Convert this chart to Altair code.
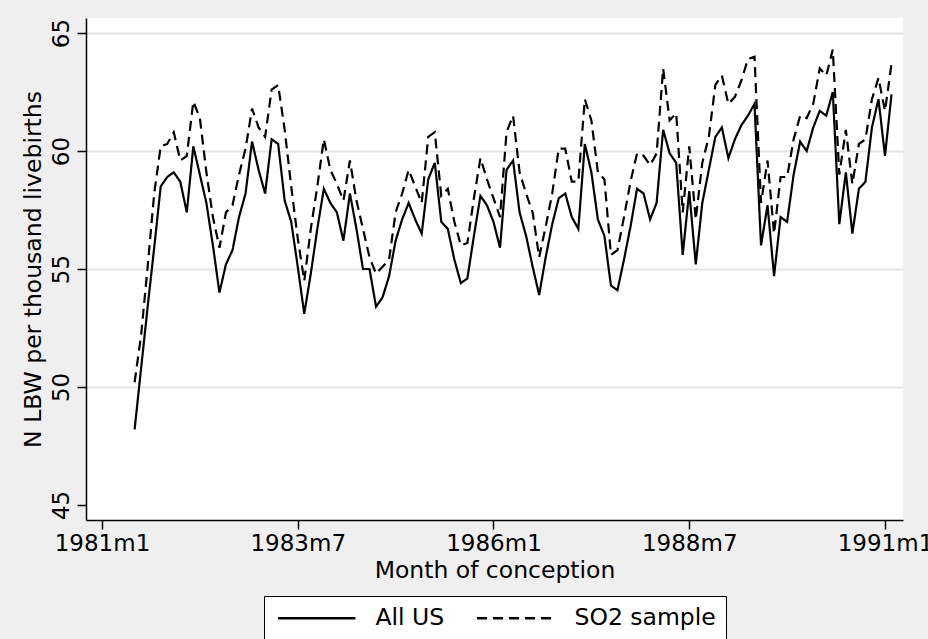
import altair as alt
import pandas as pd

# Months counted from 1981m1 (0 = 1981m1); series run 1981m6 .. 1991m2
first_month = 5

all_us = [
    48.2, 50.8, 53.4, 55.9, 58.5, 58.9, 59.1, 58.7, 57.4, 60.2,
    59.0, 57.8, 56.0, 54.0, 55.2, 55.8, 57.2, 58.2, 60.4, 59.2,
    58.2, 60.5, 60.3, 57.9, 57.0, 55.1, 53.1, 54.8, 56.7, 58.4,
    57.8, 57.4, 56.2, 58.2, 56.7, 55.0, 55.0, 53.4, 53.8, 54.7,
    56.2, 57.1, 57.8, 57.1, 56.5, 58.8, 59.5, 57.0, 56.7, 55.4,
    54.4, 54.6, 56.4, 58.1, 57.7, 57.0, 55.9, 59.2, 59.6, 57.4,
    56.4, 55.1, 53.9, 55.5, 56.9, 58.0, 58.2, 57.2, 56.7, 60.3,
    59.1, 57.1, 56.4, 54.3, 54.1, 55.4, 56.8, 58.4, 58.2, 57.1,
    57.8, 60.9, 59.9, 59.5, 55.6, 58.3, 55.2, 57.8, 59.2, 60.6,
    61.0, 59.7, 60.5, 61.1, 61.5, 62.0, 56.0, 57.7, 54.7, 57.2,
    57.0, 59.0, 60.4, 60.0, 61.0, 61.7, 61.5, 62.5, 56.9, 59.1,
    56.5, 58.4, 58.7, 61.0, 62.2, 59.8, 62.4,
]

so2_sample = [
    50.2, 52.2, 55.1, 58.2, 60.2, 60.3, 60.8, 59.6, 59.8, 62.1,
    61.4, 59.1, 57.2, 55.9, 57.4, 57.7, 59.0, 60.1, 61.8, 61.0,
    60.6, 62.6, 62.8, 60.9, 58.5, 56.3, 54.5, 56.7, 58.5, 60.5,
    59.2, 58.6, 57.9, 59.6, 57.9, 56.7, 55.5, 54.8, 55.1, 55.4,
    57.4, 58.2, 59.2, 58.5, 57.8, 60.6, 60.8, 58.1, 58.4, 57.0,
    56.0, 56.1, 58.0, 59.7, 58.8, 58.0, 57.2, 60.8, 61.5, 59.1,
    58.2, 57.4, 55.5, 56.8, 58.2, 60.1, 60.1, 58.7, 58.7, 62.2,
    61.3, 59.1, 58.8, 55.6, 55.8, 57.2, 58.7, 59.9, 59.8, 59.4,
    59.9, 63.5, 61.3, 61.6, 57.4, 60.2, 57.1, 59.5, 60.6, 62.8,
    63.2, 62.0, 62.3, 63.0, 63.9, 64.0, 57.8, 59.6, 56.5, 58.9,
    58.9, 60.5, 61.5, 61.4, 62.0, 63.5, 63.2, 64.3, 59.0, 60.9,
    58.6, 60.3, 60.5, 62.2, 63.1, 61.7, 63.7,
]

series_names = ["All US", "SO2 sample"]
x_ticks = [0, 30, 60, 90, 120]
y_ticks = [45, 50, 55, 60, 65]

months = list(range(first_month, first_month + len(all_us)))
df = pd.DataFrame({
    "month": months * 2,
    "value": all_us + so2_sample,
    "series": [series_names[0]] * len(all_us) + [series_names[1]] * len(so2_sample),
})

FONT = "DejaVu Sans"
TICK_SIZE = 23
TITLE_SIZE = 23.5

# Long horizontal line key: path spans [-5, 5] in symbol units
legend = alt.Legend(
    title=None,
    orient="none",
    legendX=178,
    legendY=578,
    direction="horizontal",
    columns=2,
    symbolType="M-5,0H5",
    symbolSize=240,
    symbolStrokeWidth=2.5,
    symbolStrokeColor="black",
    symbolOffset=31,
    labelFont=FONT,
    labelFontSize=TITLE_SIZE,
    labelColor="black",
    labelOffset=47,
    columnPadding=27,
    padding=10,
    strokeColor="black",
    fillColor="white",
)

chart = (
    alt.Chart(df)
    .mark_line(strokeWidth=2.2, color="black")
    .encode(
        x=alt.X(
            "month:Q",
            scale=alt.Scale(domain=[-2.45, 122.76], nice=False, zero=False),
            axis=alt.Axis(
                values=x_ticks,
                labelExpr="(1981 + floor(datum.value / 12)) + 'm' + (datum.value % 12 + 1)",
                title="Month of conception",
                grid=False,
                domainColor="black",
                domainWidth=1.5,
                tickColor="black",
                tickWidth=1.5,
                tickSize=9,
                labelFont=FONT,
                labelFontSize=TICK_SIZE,
                labelColor="black",
                labelPadding=3,
                titleFont=FONT,
                titleFontSize=TITLE_SIZE,
                titleFontWeight="normal",
                titleColor="black",
                titlePadding=3,
            ),
        ),
        y=alt.Y(
            "value:Q",
            scale=alt.Scale(domain=[44.36, 65.64], nice=False, zero=False),
            axis=alt.Axis(
                values=y_ticks,
                title="N LBW per thousand livebirths",
                grid=True,
                gridColor={"condition": {"test": "datum.value === 45", "value": "white"}, "value": "#e4e4e4"},
                gridWidth=2,
                domainColor="black",
                domainWidth=1.5,
                tickColor="black",
                tickWidth=1.5,
                tickSize=9,
                labelAngle=270,
                labelAlign="center",
                labelBaseline="bottom",
                labelFont=FONT,
                labelFontSize=TICK_SIZE,
                labelColor="black",
                labelPadding=4,
                titleFont=FONT,
                titleFontSize=TITLE_SIZE,
                titleFontWeight="normal",
                titleColor="black",
                titlePadding=5,
            ),
        ),
        strokeDash=alt.StrokeDash(
            "series:N",
            scale=alt.Scale(domain=series_names, range=[[1, 0], [10, 6]]),
            legend=legend,
        ),
    )
    .properties(
        width=817,
        height=502,
        autosize=alt.AutoSizeParams(type="none"),
        padding={"left": 86, "top": 18, "right": 25, "bottom": 119},
        background="#efefef",
    )
    .configure(font=FONT)
    .configure_view(fill="white", strokeWidth=0)
)

chart.save("out.html", embed_options={"renderer": "svg", "actions": False})
